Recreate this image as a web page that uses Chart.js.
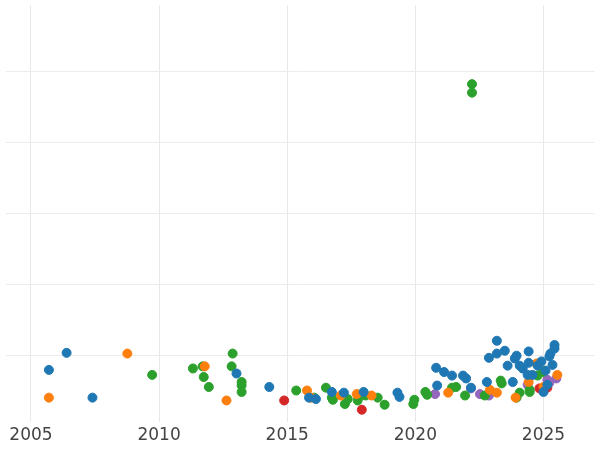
<!DOCTYPE html>
<html>
<head>
<meta charset="utf-8">
<script src="https://cdn.jsdelivr.net/npm/chart.js@4/dist/chart.umd.min.js"></script>
<style>
  html, body { margin: 0; padding: 0; background: #fff; }
  #wrap { width: 600px; height: 450px; }
</style>
</head>
<body>
<div id="wrap"><canvas id="c"></canvas></div>
<script>
// data (x = year, y = value in grid units)
const blueX = [2005.70,2006.39,2007.40,2013.02,2014.30,2015.85,2016.12,2016.74,2017.21,2017.98,2019.30,2019.38,2020.81,2020.85,2021.12,2021.43,2021.86,2021.98,2022.17,2022.79,2022.87,2023.18,2023.18,2023.49,2023.60,2023.80,2023.88,2023.95,2024.07,2024.19,2024.38,2024.42,2024.42,2024.57,2024.77,2024.92,2025.08,2025.15,2025.23,2025.27,2025.35,2025.43,2025.43,2025.00];
const blueY = [0.80,1.04,0.41,0.75,0.56,0.41,0.39,0.49,0.48,0.49,0.48,0.42,0.83,0.58,0.77,0.72,0.72,0.68,0.55,0.63,0.97,1.21,1.03,1.07,0.86,0.63,0.96,1.00,0.86,0.82,0.73,0.90,1.06,0.73,0.86,0.92,0.79,0.59,0.99,1.03,0.87,1.15,1.10,0.49];
const orangeX = [2005.70,2008.76,2011.78,2012.63,2015.77,2015.93,2017.09,2017.71,2018.29,2021.28,2022.91,2023.18,2023.91,2024.42,2024.73,2025.54,2025.00];
const orangeY = [0.41,1.03,0.85,0.37,0.51,0.41,0.44,0.46,0.44,0.48,0.52,0.48,0.41,0.63,0.89,0.73,0.56];
const greenX = [2009.73,2011.32,2011.70,2011.74,2011.94,2012.87,2012.83,2013.22,2013.22,2013.22,2015.35,2016.05,2016.51,2016.74,2016.78,2017.25,2017.36,2017.75,2017.87,2018.06,2018.53,2018.80,2019.92,2019.96,2020.39,2020.46,2021.43,2021.59,2021.94,2022.21,2022.21,2022.71,2023.33,2023.37,2023.95,2024.07,2024.46,2024.46,2024.77,2024.96,2025.04];
const greenY = [0.73,0.82,0.85,0.70,0.56,1.03,0.85,0.63,0.58,0.49,0.51,0.41,0.55,0.41,0.38,0.32,0.39,0.37,0.44,0.44,0.41,0.31,0.32,0.38,0.49,0.45,0.55,0.56,0.44,4.82,4.70,0.44,0.65,0.61,0.41,0.48,0.52,0.49,0.72,0.77,0.79];
const redX = [2014.88,2017.91,2024.84,2025.15];
const redY = [0.37,0.24,0.54,0.55];
const purpleX = [2020.77,2022.17,2022.52,2022.87,2024.38,2025.15,2025.50,2025.23];
const purpleY = [0.46,0.54,0.46,0.44,0.59,0.66,0.68,0.62];
const xTicks = [2005, 2010, 2015, 2020, 2025];
const yTicks = [1, 2, 3, 4, 5];

const pts = (xs, ys) => xs.map((x, i) => ({ x: x, y: ys[i] }));
const ds = (xs, ys, color) => ({
    data: pts(xs, ys),
    backgroundColor: color,
    borderColor: color,
    pointRadius: 4.5,
    pointHoverRadius: 4.5,
});

new Chart(document.getElementById('c').getContext('2d'), {
    type: 'scatter',
    data: {
        datasets: [
            ds(blueX, blueY, '#1f77b4'),
            ds(orangeX, orangeY, '#ff7f0e'),
            ds(greenX, greenY, '#2ca02c'),
            ds(redX, redY, '#d62728'),
            ds(purpleX, purpleY, '#9467bd'),
        ],
    },
    options: {
        animation: false,
        responsive: true,
        maintainAspectRatio: false,
        layout: { padding: 0 },
        plugins: { legend: { display: false }, tooltip: { enabled: false } },
        scales: {
            x: {
                min: 2004.006,
                max: 2026.99,
                afterBuildTicks: (axis) => {
                    axis.ticks = xTicks.map(v => ({ value: v }));
                },
                grid: { color: '#e8e8e8', drawTicks: false },
                border: { display: false },
                ticks: {
                    color: '#444',
                    font: { family: 'DejaVu Sans', size: 17 },
                    padding: 4,
                    callback: (v) => String(v),
                },
            },
            y: {
                min: 0.073,
                max: 5.926,
                afterBuildTicks: (axis) => {
                    axis.ticks = yTicks.map(v => ({ value: v }));
                },
                ticks: { display: false },
                grid: { color: '#ececec', drawTicks: false },
                border: { display: false },
            },
        },
    },
});
</script>
</body>
</html>
